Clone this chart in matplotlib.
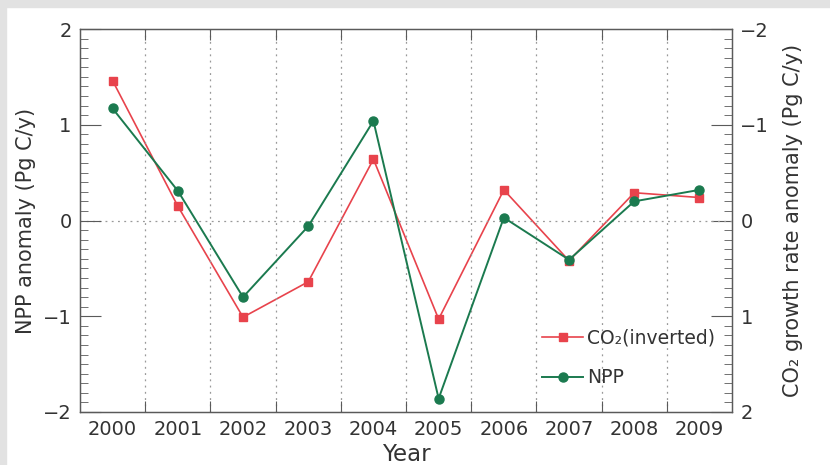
import matplotlib

matplotlib.use("Agg")
import matplotlib.pyplot as plt
from matplotlib.patches import Rectangle
from matplotlib.ticker import FixedLocator, FuncFormatter, MultipleLocator

years = [2000, 2001, 2002, 2003, 2004, 2005, 2006, 2007, 2008, 2009]
npp_anomaly = [1.17, 0.31, -0.80, -0.06, 1.04, -1.86, 0.03, -0.41, 0.20, 0.32]
# CO2 growth rate anomaly, drawn on the inverted right axis
co2_anomaly = [-1.46, -0.15, 1.01, 0.64, -0.64, 1.03, -0.32, 0.42, -0.29, -0.24]

RED = "#e8434c"
GREEN = "#1b7a4f"
INK = "#333333"
FRAME = "#5a5a5a"
GRID = "#999999"

plt.rcParams.update(
    {
        "font.family": "DejaVu Sans",
        "font.size": 13,
        "text.color": INK,
        "axes.labelcolor": INK,
        "xtick.color": FRAME,
        "ytick.color": FRAME,
        "xtick.labelcolor": INK,
        "ytick.labelcolor": INK,
    }
)


def _minus(v, _):
    return f"{v:.0f}".replace("-", "\u2212")


fig = plt.figure(figsize=(8.3, 4.65), dpi=100)
fig.patch.set_facecolor("white")
# grey frame along top and left edge
fig.patches.append(Rectangle((0, 0.985), 1, 0.015, transform=fig.transFigure,
                             color="#e2e2e2", zorder=0))
fig.patches.append(Rectangle((0, 0), 0.0075, 1, transform=fig.transFigure,
                             color="#e2e2e2", zorder=0))

ax = fig.add_axes([0.0964, 0.114, 0.7856, 0.8236])
ax2 = ax.twinx()
ax.set_zorder(ax2.get_zorder() + 1)
ax.patch.set_visible(False)

(co2_line,) = ax2.plot(years, co2_anomaly, color=RED, marker="s", markersize=6,
                       linewidth=1.2, label="CO\u2082(inverted)")
(npp_line,) = ax.plot(years, npp_anomaly, color=GREEN, marker="o", markersize=6.5,
                      linewidth=1.4, label="NPP")

ax.set_xlim(1999.5, 2009.5)
ax.set_ylim(-2, 2)
ax2.set_ylim(2, -2)

# x axis: labels at the years, ticks and grid at the year boundaries
ax.xaxis.set_major_locator(FixedLocator([y + 0.5 for y in years[:-1]]))
ax.xaxis.set_minor_locator(FixedLocator(years))
ax.set_xticklabels([])
ax.set_xticklabels([str(y) for y in years], minor=True)
ax.tick_params(axis="x", which="major", direction="in", length=8, top=True,
               width=0.8)
ax.tick_params(axis="x", which="minor", length=0, pad=6, labelsize=14)
ax.grid(True, axis="x", which="major", linestyle=(0, (1.5, 3.5)), color=GRID,
        linewidth=0.9)
ax.axhline(0, linestyle=(0, (1.5, 3.5)), color=GRID, linewidth=0.9, zorder=0)

for a in (ax, ax2):
    a.yaxis.set_major_locator(MultipleLocator(1))
    a.yaxis.set_minor_locator(MultipleLocator(0.1))
    a.yaxis.set_major_formatter(FuncFormatter(_minus))
    a.tick_params(axis="y", which="major", direction="in", length=15, width=0.8,
                  labelsize=14, pad=6)
    a.tick_params(axis="y", which="minor", direction="in", length=6, width=0.6)
    for spine in a.spines.values():
        spine.set_color(FRAME)
        spine.set_linewidth(0.9)

ax.set_xlabel("Year", fontsize=16.5, labelpad=3)
ax.set_ylabel("NPP anomaly (Pg C/y)", fontsize=15, labelpad=5)
ax2.set_ylabel("CO\u2082 growth rate anomaly (Pg C/y)", fontsize=15, labelpad=10)

ax.legend(handles=[co2_line, npp_line], loc="lower right",
          bbox_to_anchor=(1.0, 0.02), frameon=False, handlelength=2.2,
          handletextpad=0.2, labelspacing=1.1, fontsize=13.5, numpoints=1)

fig.savefig("out.png", dpi=100, facecolor=fig.get_facecolor())
